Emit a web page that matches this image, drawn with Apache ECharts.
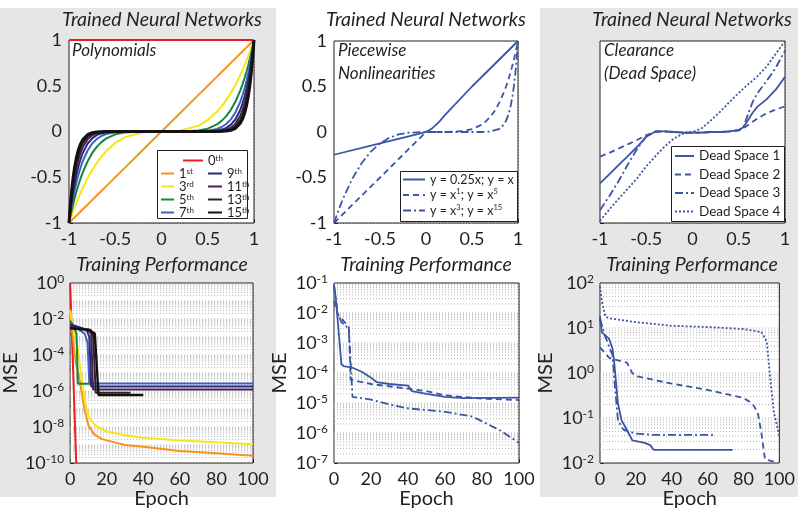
<!DOCTYPE html>
<html><head><meta charset="utf-8">
<script src="https://cdn.jsdelivr.net/npm/echarts@6/dist/echarts.min.js"></script>
<style>html,body{margin:0;padding:0;background:#fff}#c{width:798px;height:510px}</style>
</head><body><div id="c"></div>
<script>
// ---------- DATA ----------
// Panel 1: polynomials (x samples shared)
const polyX   = [-1,-0.985,-0.97,-0.955,-0.94,-0.92,-0.9,-0.875,-0.85,-0.8,-0.75,-0.7,-0.65,-0.6,-0.5,-0.4,-0.2,0,0.2,0.4,0.5,0.6,0.65,0.7,0.75,0.8,0.85,0.875,0.9,0.92,0.94,0.955,0.97,0.985,1];
const poly0th = [1,1,1,1,1,1,1,1,1,1,1,1,1,1,1,1,1,1,1,1,1,1,1,1,1,1,1,1,1,1,1,1,1,1,1];
const poly1st = [-1,-0.985,-0.97,-0.955,-0.94,-0.92,-0.9,-0.875,-0.85,-0.8,-0.75,-0.7,-0.65,-0.6,-0.5,-0.4,-0.2,0,0.2,0.4,0.5,0.6,0.65,0.7,0.75,0.8,0.85,0.875,0.9,0.92,0.94,0.955,0.97,0.985,1];
const poly3rd = [-1,-0.956,-0.913,-0.871,-0.831,-0.779,-0.729,-0.67,-0.614,-0.512,-0.422,-0.343,-0.275,-0.216,-0.125,-0.064,-0.008,0,0.008,0.064,0.125,0.216,0.275,0.343,0.422,0.512,0.614,0.67,0.729,0.779,0.831,0.871,0.913,0.956,1];
const poly5th = [-1,-0.927,-0.859,-0.794,-0.734,-0.659,-0.59,-0.513,-0.444,-0.328,-0.237,-0.168,-0.116,-0.078,-0.031,-0.01,0,0,0,0.01,0.031,0.078,0.116,0.168,0.237,0.328,0.444,0.513,0.59,0.659,0.734,0.794,0.859,0.927,1];
const poly7th = [-1,-0.9,-0.808,-0.724,-0.648,-0.558,-0.478,-0.393,-0.321,-0.21,-0.133,-0.082,-0.049,-0.028,-0.008,-0.002,0,0,0,0.002,0.008,0.028,0.049,0.082,0.133,0.21,0.321,0.393,0.478,0.558,0.648,0.724,0.808,0.9,1];
const poly9th = [-1,-0.873,-0.76,-0.661,-0.573,-0.472,-0.387,-0.301,-0.232,-0.134,-0.075,-0.04,-0.021,-0.01,-0.002,0,0,0,0,0,0.002,0.01,0.021,0.04,0.075,0.134,0.232,0.301,0.387,0.472,0.573,0.661,0.76,0.873,1];
const poly11th= [-1,-0.847,-0.715,-0.603,-0.506,-0.4,-0.314,-0.23,-0.167,-0.086,-0.042,-0.02,-0.009,-0.004,0,0,0,0,0,0,0,0.004,0.009,0.02,0.042,0.086,0.167,0.23,0.314,0.4,0.506,0.603,0.715,0.847,1];
const poly13th= [-1,-0.822,-0.673,-0.55,-0.447,-0.338,-0.254,-0.176,-0.121,-0.055,-0.024,-0.01,-0.004,-0.001,0,0,0,0,0,0,0,0.001,0.004,0.01,0.024,0.055,0.121,0.176,0.254,0.338,0.447,0.55,0.673,0.822,1];
const poly15th= [-1,-0.797,-0.633,-0.501,-0.395,-0.286,-0.206,-0.135,-0.087,-0.035,-0.013,-0.005,-0.002,0,0,0,0,0,0,0,0,0,0.002,0.005,0.013,0.035,0.087,0.135,0.206,0.286,0.395,0.501,0.633,0.797,1];
const polyNames = ['0th','1st','3rd','5th','7th','9th','11th','13th','15th'];

// Panel 2: piecewise nonlinearities
const pwSolidX = [-1,-0.5,-0.2,-0.08,-0.03,0,0.03,0.06,0.1,0.15,0.2,0.5,1];
const pwSolidY = [-0.25,-0.125,-0.05,-0.02,-0.006,0.002,0.015,0.035,0.07,0.12,0.18,0.5,1];
const pwDashX  = [-1,-0.5,0,0.2,0.4,0.5,0.6,0.65,0.7,0.75,0.8,0.85,0.875,0.9,0.925,0.95,0.975,1];
const pwDashY  = [-1,-0.5,0,0.0003,0.01,0.031,0.078,0.116,0.168,0.237,0.328,0.444,0.513,0.59,0.677,0.774,0.881,1];
const pwDotX   = [-1,-0.95,-0.9,-0.8,-0.7,-0.6,-0.5,-0.4,-0.3,-0.2,0,0.6,0.7,0.8,0.85,0.875,0.9,0.92,0.94,0.955,0.97,0.985,1];
const pwDotY   = [-1,-0.857,-0.729,-0.512,-0.343,-0.216,-0.125,-0.064,-0.027,-0.008,0,0,0.005,0.035,0.087,0.135,0.206,0.286,0.395,0.501,0.633,0.797,1];
const pwNames  = ['y = 0.25x; y = x','y = x^1; y = x^5','y = x^3; y = x^15'];

// Panel 3: dead space
const dsX  = [-1,-0.9,-0.8,-0.7,-0.6,-0.5,-0.4,-0.3,-0.2,-0.1,0,0.1,0.2,0.3,0.4,0.5,0.55,0.6,0.65,0.7,0.8,0.9,1];
const ds1  = [-9.6,-7.9,-6.2,-4.5,-2.8,-0.9,0.1,0.1,0,-0.1,-0.1,-0.1,0,0,0.1,0.4,0.9,2.2,3.6,4.7,6.1,7.9,10.3];
const ds2  = [-4.6,-3.9,-3.1,-2.3,-1.5,-0.6,0,0.1,0,-0.1,-0.1,-0.1,0,0,0.1,0.3,0.7,1.3,1.9,2.5,3.5,4.2,4.8];
const ds3  = [-14.6,-12,-9.2,-6.1,-3.2,-0.8,0.1,0.1,0,-0.1,-0.1,-0.1,0,0,0.1,0.3,0.9,3.3,5.6,7.2,9.5,12,15.2];
const ds4  = [-16.6,-14.5,-12.5,-10.6,-8.7,-6.4,-4.5,-2.7,-1.2,-0.3,0,0.7,2.2,3.8,5.6,7.3,8.1,8.9,9.6,10.4,12.2,14.6,17];
const dsNames = ['Dead Space 1','Dead Space 2','Dead Space 3','Dead Space 4'];

// Panel 4: training performance, polynomials  [epoch, MSE]
const loss0th = [[0,1],[1,1e-3],[2,1e-6],[3.3,1e-10]];
const loss1st = [[0,3.6e-2],[1,3e-3],[2,3e-4],[3,4e-5],[5,5e-6],[7,3e-7],[8,8e-8],[10,1.2e-8],[13,4e-9],[17,2.2e-9],[20,1.8e-9],[30,1e-9],[40,8e-10],[60,4.7e-10],[80,3.5e-10],[100,2.5e-10]];
const loss3rd = [[0,3e-2],[2,2e-3],[4,3e-4],[5.5,2e-5],[7,1.6e-6],[8.7,1.4e-7],[10.5,3e-8],[13,1.5e-8],[15,1e-8],[20,5.6e-9],[30,3.5e-9],[40,2.5e-9],[60,1.8e-9],[80,1.4e-9],[100,1.1e-9]];
const loss5th = [[0,8e-3],[2,4e-3],[3.5,1.5e-3],[4.2,2.5e-6],[12,2.5e-6]];
const loss7th = [[0,6e-3],[4,3e-3],[8,1.5e-3],[9.5,5e-4],[10.5,2.6e-6],[100,2.6e-6]];
const loss9th = [[0,5e-3],[5,3.5e-3],[9,2.5e-3],[10.5,1e-3],[11.5,1.8e-6],[100,1.8e-6]];
const loss11th= [[0,4e-3],[6,3e-3],[10,2.5e-3],[11.5,1.5e-3],[12.5,1.2e-6],[100,1.2e-6]];
const loss13th= [[0,3.5e-3],[8,2.8e-3],[11,2.5e-3],[12.5,1.5e-3],[14,8e-7],[33,8e-7]];
const loss15th= [[0,3e-3],[9,2.5e-3],[11,2.3e-3],[13.5,1.5e-3],[15.5,6e-7],[40,6e-7]];

// Panel 5: training performance, piecewise
const lossPwSolid = [[0,9e-2],[1,3e-2],[4,2e-4],[5,1.7e-4],[10,1.5e-4],[15,1.1e-4],[20,7e-5],[23,5e-5],[30,4.3e-5],[40,3.8e-5],[42,2.5e-5],[50,2e-5],[60,1.6e-5],[70,1.45e-5],[100,1.5e-5]];
const lossPwDash  = [[0,2.5e-2],[2,9e-3],[5,5.6e-3],[8,3.4e-3],[9,6e-5],[10,5.5e-5],[20,4.3e-5],[40,3e-5],[50,2.5e-5],[60,1.8e-5],[80,1.4e-5],[100,1.25e-5]];
const lossPwDot   = [[0,8e-2],[2,1e-2],[4,5e-3],[8,3e-3],[10,1.6e-5],[20,1.3e-5],[30,9e-6],[40,6.6e-6],[60,5.1e-6],[75,3.5e-6],[90,1.2e-6],[100,4.7e-7]];

// Panel 6: training performance, dead space
const lossDs1 = [[0,18.6],[1,8],[5,5.8],[7,3.5],[8,1.6],[10,0.21],[12,0.09],[15,0.054],[18,0.032],[25,0.028],[28,0.025],[30,0.0195],[74,0.0195]];
const lossDs2 = [[0,3.7],[5,2.2],[10,1.9],[15,1.7],[18,1],[20,0.85],[40,0.58],[60,0.42],[80,0.28],[85,0.21],[88,0.13],[90,0.047],[92,0.012],[98,0.0105]];
const lossDs3 = [[0,16],[3,6.3],[7,2.5],[8,0.7],[10,0.09],[13,0.055],[20,0.045],[30,0.042],[64,0.042]];
const lossDs4 = [[0,85],[1,40],[3,18],[5,16.5],[20,13.5],[40,11.2],[60,10.5],[80,9.5],[90,8.1],[92,6],[93,4.9],[95,0.7],[97,0.13],[100,0.04]];

// ---------- STYLE ----------
const FONT = 'Lato, "Noto Sans", sans-serif';
const INK = '#231f20';
const BLUE = '#3b55a5';
const polyColors = ['#ed1c24','#f7941d','#f5e61a','#12873e','#4260c0','#232a7c','#4a1f50','#2a2426','#111111'];
const polyWidths = [2.2,2,2,2,2,2,2,2.4,3];
const lossWidths = [2,2,2,2,2,2,2,2,2.4];
const dashStyles = ['solid',[6,4],[8,3,2,3],[2,2]];

const zip = (xs, ys) => xs.map((x,i)=>[x,ys[i]]);
const supFmt = name => name.replace(/^(\d+)(\D+)$/, '{n|$1}{s|$2}');
const supEq = name => name.split(/(\^\d+)/).filter(Boolean).map(p => p[0]==='^' ? '{s|'+p.slice(1)+'}' : '{t|'+p+'}').join('');

const gridDefs = [
  {left:69, top:40, width:185, height:183},
  {left:334, top:41, width:184, height:182},
  {left:600, top:41, width:185, height:182},
  {left:69, top:283, width:184, height:185},
  {left:334, top:283, width:185, height:184},
  {left:600, top:283, width:185, height:184}
].map(g => Object.assign({show:true, backgroundColor:'#fff', borderColor:INK, borderWidth:1, z:1}, g));

const splitLine = {show:true, lineStyle:{color:'#9a9a9a', type:[1,2], width:1}};
const tick = {show:true, inside:true, length:4, lineStyle:{color:INK, width:1}};
const lbl = {fontFamily:FONT, fontSize:18, color:INK};

function xAxisLin(i, min, max, interval, name) {
  return {type:'value', gridIndex:i, min, max, interval,
    axisLine:{show:false, onZero:false}, axisTick:tick, splitLine,
    axisLabel:Object.assign({margin:7}, lbl),
    name: name || '', nameLocation:'middle', nameGap:26,
    nameTextStyle:{fontFamily:FONT, fontSize:20, color:INK}};
}
function yAxisLin(i, min, max, interval, step) {
  return {type:'value', gridIndex:i, min, max, interval,
    axisLine:{show:false, onZero:false}, axisTick:tick, splitLine,
    axisLabel:Object.assign({margin:7, formatter: v => (Math.abs(v % step) < 1e-9 ? String(v) : '')}, lbl)};
}
// logBase only sets the tick step (base 100 -> a tick every two decades); positions are the same log scale
function yAxisLog(i, min, max, base) {
  return {type:'log', logBase:base, gridIndex:i, min, max,
    axisLine:{show:false, onZero:false}, axisTick:tick, splitLine,
    axisLabel:{margin:6, color:INK,
      formatter: v => '{b|10}{e|' + Math.round(Math.log10(v)) + '}',
      rich:{b:{fontFamily:FONT, fontSize:18, color:INK, lineHeight:20},
            e:{fontFamily:FONT, fontSize:12, color:INK, verticalAlign:'top', lineHeight:20, padding:[0,0,8,0]}}},
    name:'MSE', nameLocation:'middle', nameGap:44,
    nameTextStyle:{fontFamily:FONT, fontSize:20, color:INK}};
}
// minor log gridlines (1..9 x 10^e), drawn as a broken line through the axes
function minorGrid(i, e0, e1) {
  const pts = [];
  for (let e = e0; e < e1; e++) for (let m = 1; m <= 9; m++) {
    const v = m * Math.pow(10, e);
    pts.push([0, v], [100, v], ['-', '-']);
  }
  return {type:'line', xAxisIndex:i, yAxisIndex:i, data:pts, silent:true, z:1, symbol:'none',
    connectNulls:false, animation:false, lineStyle:{color:'#b4b4b4', type:[1,2], width:1}};
}
function line(name, i, data, color, width, type) {
  return {name, type:'line', xAxisIndex:i, yAxisIndex:i, data, symbol:'none', showSymbol:false,
    smooth:false, lineStyle:{color, width, type}, itemStyle:{color}, z:2, animation:false};
}

const polyY = [poly0th,poly1st,poly3rd,poly5th,poly7th,poly9th,poly11th,poly13th,poly15th];
const lossPoly = [loss0th,loss1st,loss3rd,loss5th,loss7th,loss9th,loss11th,loss13th,loss15th];

const series = [];
series.push(minorGrid(3,-10,0), minorGrid(4,-7,-1), minorGrid(5,-2,2));
polyNames.forEach((n,k) => series.push(line(n, 0, zip(polyX, polyY[k]), polyColors[k], polyWidths[k], 'solid')));
series.push(line(pwNames[0],1,zip(pwSolidX,pwSolidY),BLUE,1.8,'solid'));
series.push(line(pwNames[1],1,zip(pwDashX,pwDashY),BLUE,1.8,[6,4]));
series.push(line(pwNames[2],1,zip(pwDotX,pwDotY),BLUE,1.8,[8,3,2,3]));
[ds1,ds2,ds3,ds4].forEach((d,k) => series.push(line(dsNames[k],2,zip(dsX,d),BLUE,1.8,dashStyles[k])));
lossPoly.forEach((d,k) => series.push(line('loss ' + polyNames[k], 3, d, polyColors[k], lossWidths[k], 'solid')));
[lossPwSolid,lossPwDash,lossPwDot].forEach((d,k) => series.push(line('lossPw'+k, 4, d, BLUE, 1.8, dashStyles[k])));
[lossDs1,lossDs2,lossDs3,lossDs4].forEach((d,k) => series.push(line('lossDs'+k, 5, d, BLUE, 1.8, dashStyles[k])));

const legTxtPoly = {fontFamily:FONT, fontSize:13, color:INK,
  rich:{n:{fontFamily:FONT, fontSize:13, lineHeight:13, color:INK},
        s:{fontFamily:FONT, fontSize:8, lineHeight:13, color:INK, verticalAlign:'top'}}};
const legTxtPw = {fontFamily:FONT, fontSize:12.5, color:INK,
  rich:{t:{fontFamily:FONT, fontSize:12.5, lineHeight:14, color:INK},
        s:{fontFamily:FONT, fontSize:7.5, lineHeight:14, color:INK, verticalAlign:'top'}}};
const noSym = {opacity:0, borderWidth:0};

const option = {
  animation:false,
  backgroundColor:'#fff',
  grid: gridDefs,
  xAxis: [
    xAxisLin(0,-1,1,0.5), xAxisLin(1,-1,1,0.5), xAxisLin(2,-1,1,0.5),
    xAxisLin(3,0,100,20,'Epoch'), xAxisLin(4,0,100,20,'Epoch'), xAxisLin(5,0,100,20,'Epoch')
  ],
  yAxis: [
    yAxisLin(0,-1,1,0.5,0.5), yAxisLin(1,-1,1,0.5,0.5), yAxisLin(2,-17,17,5,5),
    yAxisLog(3,1e-10,1,100), yAxisLog(4,1e-7,1e-1,10), yAxisLog(5,1e-2,1e2,10)
  ],
  legend: [
    {data:['0th'], left:182, top:154, itemWidth:20, itemHeight:10, itemGap:2, padding:0, itemStyle:noSym,
      formatter:supFmt, textStyle:legTxtPoly, selectedMode:false, z:6},
    {data:['1st','3rd','5th','7th'], orient:'vertical', left:160, top:167, itemWidth:13, itemHeight:10, itemGap:0, padding:0, itemStyle:noSym,
      formatter:supFmt, textStyle:legTxtPoly, selectedMode:false, z:6},
    {data:['9th','11th','13th','15th'], orient:'vertical', left:207, top:167, itemWidth:14, itemHeight:10, itemGap:0, padding:0, itemStyle:noSym,
      formatter:supFmt, textStyle:legTxtPoly, selectedMode:false, z:6},
    {data:pwNames, orient:'vertical', left:402, top:173, itemWidth:22, itemHeight:10, itemGap:2, padding:0, itemStyle:noSym,
      formatter:supEq, textStyle:legTxtPw, selectedMode:false, z:6},
    {data:dsNames, orient:'vertical', left:674, top:148, itemWidth:19, itemHeight:10, itemGap:2.5, padding:0, itemStyle:noSym,
      textStyle:{fontFamily:FONT, fontSize:13.5, color:INK, lineHeight:16}, selectedMode:false, z:6}
  ],
  graphic: [
    {type:'rect', shape:{x:0, y:8, width:276, height:489}, style:{fill:'#e6e6e6'}, z:-10, silent:true},
    {type:'rect', shape:{x:540, y:8, width:258, height:489}, style:{fill:'#e6e6e6'}, z:-10, silent:true},
    {type:'rect', shape:{x:157.5, y:150.5, width:90, height:68}, style:{fill:'#fff', stroke:INK, lineWidth:1}, z:5, silent:true},
    {type:'rect', shape:{x:400.5, y:171.5, width:117, height:50}, style:{fill:'#fff', stroke:INK, lineWidth:1}, z:5, silent:true},
    {type:'rect', shape:{x:671.5, y:146.5, width:113, height:75}, style:{fill:'#fff', stroke:INK, lineWidth:1}, z:5, silent:true},
    ...[[162,20,'Trained Neural Networks'],[426,20,'Trained Neural Networks'],[692,20,'Trained Neural Networks'],
        [162,265,'Training Performance'],[426,265,'Training Performance'],[692,265,'Training Performance']].map(t => ({
      type:'text', x:t[0], y:t[1], z:6, silent:true,
      style:{text:t[2], font:'italic 19.5px ' + FONT, fill:INK, textAlign:'center', textVerticalAlign:'middle', align:'center', verticalAlign:'middle'}})),
    ...[[72,51,'Polynomials'],[338,51,'Piecewise'],[338,74,'Nonlinearities'],[604,51,'Clearance'],[604,74,'(Dead Space)']].map(t => ({
      type:'text', x:t[0], y:t[1], z:6, silent:true,
      style:{text:t[2], font:'italic 17px ' + FONT, fill:INK, textAlign:'left', textVerticalAlign:'middle', align:'left', verticalAlign:'middle'}}))
  ],
  series
};

const chart = echarts.init(document.getElementById('c'), null, {renderer:'canvas'});
chart.setOption(option);
</script></body></html>
